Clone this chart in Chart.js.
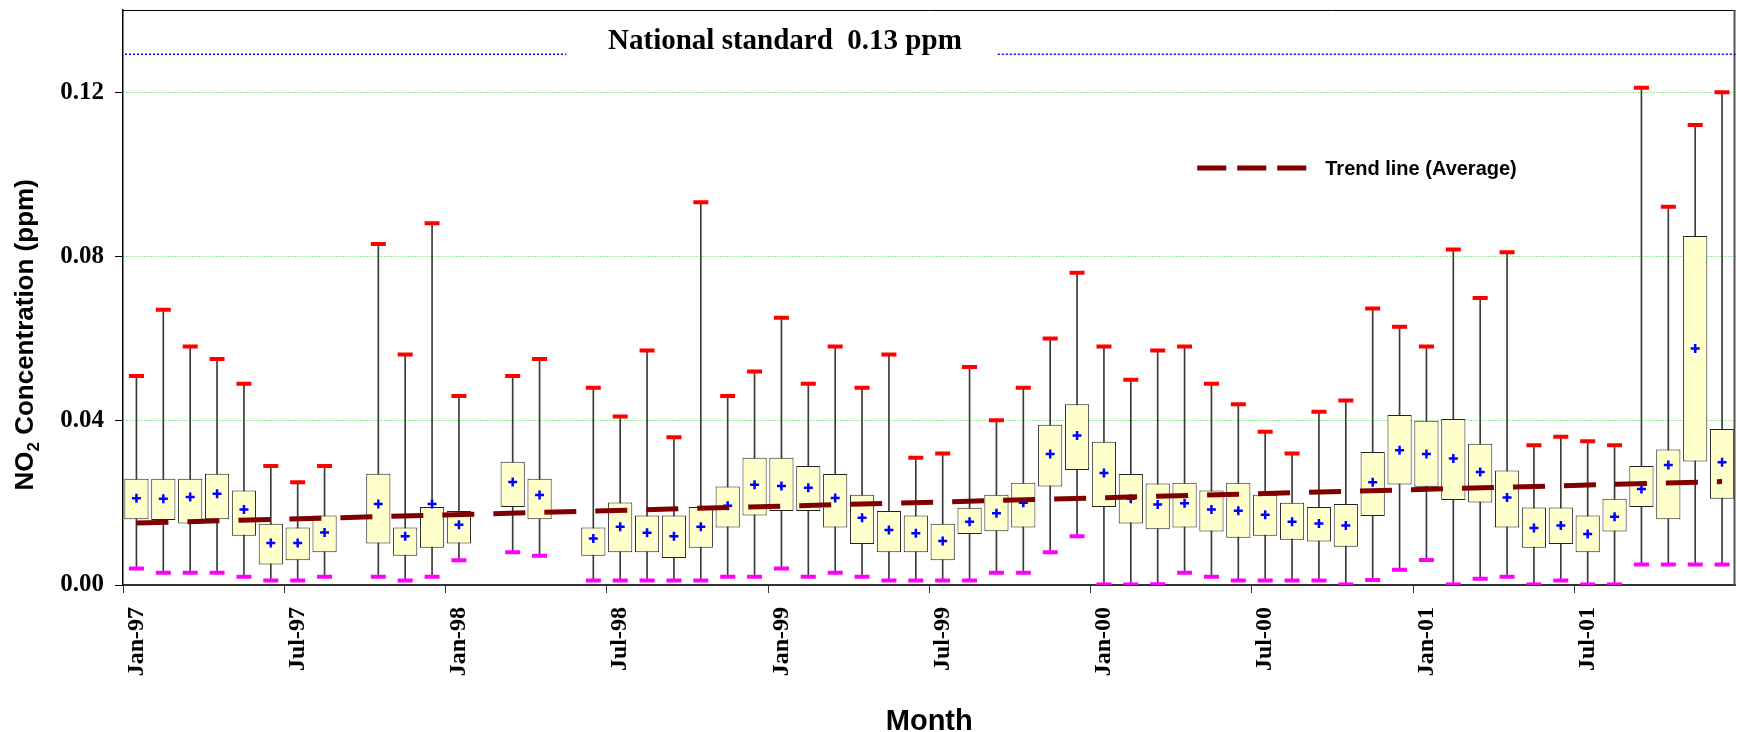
<!DOCTYPE html>
<html>
<head>
<meta charset="utf-8">
<title>NO2 monthly box plot</title>
<script src="https://cdn.jsdelivr.net/npm/chart.js@4.4.1/dist/chart.umd.min.js"></script>
<style>
  html, body { margin: 0; padding: 0; background: #fff; }
  #wrap { width: 1737px; height: 732px; }
</style>
</head>
<body>
<div id="wrap"><canvas id="no2Chart"></canvas></div>
<script>
// =======================
// DATA
// =======================
const monthNames = ['Jan','Feb','Mar','Apr','May','Jun','Jul','Aug','Sep','Oct','Nov','Dec'];
const years = ['97','98','99','00','01'];
const months = years.flatMap(y => monthNames.map(m => `${m}-${y}`));

// null = no data for that month
const maxVals = [0.0509,0.0670,0.0581,0.0550,0.0490,0.0290,0.0250,0.0290,null,0.0830,0.0561,0.0881,
                 0.0460,null,0.0509,0.0550,null,0.0480,0.0410,0.0571,0.0360,0.0932,0.0460,0.0520,
                 0.0651,0.0490,0.0581,0.0480,0.0561,0.0310,0.0320,0.0531,0.0401,0.0480,0.0600,0.0760,
                 0.0581,0.0500,0.0571,0.0581,0.0490,0.0440,0.0373,0.0320,0.0422,0.0449,0.0673,0.0629,
                 0.0581,0.0817,0.0699,0.0810,0.0340,0.0361,0.0350,0.0340,0.1211,0.0921,0.1120,0.1200];
const q3Vals  = [0.0259,0.0259,0.0259,0.0271,0.0230,0.0149,0.0140,0.0169,null,0.0271,0.0140,0.0190,
                 0.0180,null,0.0300,0.0259,null,0.0140,0.0201,0.0169,0.0169,0.0190,0.0240,0.0310,
                 0.0310,0.0290,0.0270,0.0220,0.0180,0.0169,0.0149,0.0188,0.0220,0.0249,0.0390,0.0440,
                 0.0349,0.0270,0.0247,0.0249,0.0230,0.0249,0.0220,0.0200,0.0190,0.0197,0.0324,0.0414,
                 0.0400,0.0404,0.0344,0.0279,0.0189,0.0189,0.0169,0.0210,0.0290,0.0330,0.0850,0.0380];
const meanVals = [0.0211,0.0210,0.0214,0.0222,0.0184,0.0102,0.0102,0.0128,null,0.0197,0.0119,0.0197,
                  0.0147,null,0.0251,0.0219,null,0.0113,0.0142,0.0127,0.0119,0.0142,0.0193,0.0244,
                  0.0241,0.0237,0.0212,0.0164,0.0134,0.0126,0.0107,0.0154,0.0175,0.0200,0.0319,0.0364,
                  0.0273,0.0210,0.0196,0.0199,0.0184,0.0181,0.0171,0.0154,0.0150,0.0145,0.0250,0.0328,
                  0.0319,0.0308,0.0275,0.0213,0.0139,0.0145,0.0124,0.0166,0.0234,0.0292,0.0576,0.0299];
const q1Vals  = [0.0160,0.0158,0.0150,0.0160,0.0120,0.0050,0.0060,0.0080,null,0.0101,0.0071,0.0091,
                 0.0101,null,0.0190,0.0160,null,0.0071,0.0080,0.0080,0.0066,0.0091,0.0140,0.0169,
                 0.0180,0.0180,0.0140,0.0100,0.0080,0.0080,0.0060,0.0124,0.0131,0.0140,0.0240,0.0280,
                 0.0190,0.0150,0.0136,0.0140,0.0130,0.0115,0.0120,0.0110,0.0106,0.0093,0.0168,0.0245,
                 0.0239,0.0207,0.0201,0.0140,0.0091,0.0100,0.0080,0.0130,0.0190,0.0160,0.0301,0.0210];
const minVals = [0.0040,0.0030,0.0030,0.0030,0.0020,0.0011,0.0011,0.0020,null,0.0020,0.0011,0.0020,
                 0.0060,null,0.0080,0.0071,null,0.0011,0.0011,0.0011,0.0011,0.0011,0.0020,0.0020,
                 0.0040,0.0020,0.0030,0.0020,0.0011,0.0011,0.0011,0.0011,0.0030,0.0030,0.0080,0.0119,
                 0.0001,0.0001,0.0002,0.0030,0.0020,0.0011,0.0011,0.0011,0.0011,0.0001,0.0012,0.0037,
                 0.0061,0.0001,0.0015,0.0020,0.0001,0.0011,0.0001,0.0001,0.0050,0.0050,0.0050,0.0050];

// trend line (average) end points
const trendMonths = ['Jan-97', 'Dec-01'];
const trendValues = [0.0151, 0.0252];

// national standard line
const standardLevel = 0.1292;
const standardText = 'National standard  0.13 ppm';

const yTicksMax = 0.12;

const SERIF = '"Liberation Serif", "Times New Roman", serif';
const SANS = '"Liberation Sans", Arial, sans-serif';

// =======================
// EXTRA DRAWING (frame, standard line, legend, y title)
// =======================
const decorPlugin = {
  id: 'decor',
  afterDraw(chart) {
    const { ctx, chartArea: a, scales } = chart;
    const w = a.right - a.left;
    ctx.save();

    // top + right frame
    ctx.strokeStyle = '#000';
    ctx.lineWidth = 1;
    ctx.beginPath();
    ctx.moveTo(a.left, a.top + 0.5);
    ctx.lineTo(a.right, a.top + 0.5);
    ctx.stroke();
    ctx.strokeStyle = '#555';
    ctx.lineWidth = 2;
    ctx.beginPath();
    ctx.moveTo(a.right - 1, a.top);
    ctx.lineTo(a.right - 1, a.bottom);
    ctx.stroke();

    // national standard
    const sy = scales.y.getPixelForValue(standardLevel);
    ctx.font = `bold 29px ${SERIF}`;
    const tw = ctx.measureText(standardText).width;
    const tx = a.left + 0.4105 * w;
    ctx.fillStyle = '#000';
    ctx.textAlign = 'center';
    ctx.textBaseline = 'alphabetic';
    ctx.fillText(standardText, tx, sy - 5);
    ctx.strokeStyle = '#0000ff';
    ctx.lineWidth = 1.5;
    ctx.setLineDash([2, 2]);
    ctx.beginPath();
    ctx.moveTo(a.left + 2, sy);
    ctx.lineTo(tx - tw / 2 - 42, sy);
    ctx.moveTo(tx + tw / 2 + 36, sy);
    ctx.lineTo(a.right, sy);
    ctx.stroke();

    // legend for trend line
    const lx = a.left + 0.6662 * w;
    const ly = a.top + 158;
    ctx.strokeStyle = '#800000';
    ctx.lineWidth = 5;
    ctx.setLineDash([29, 11]);
    ctx.beginPath();
    ctx.moveTo(lx, ly);
    ctx.lineTo(lx + 109, ly);
    ctx.stroke();
    ctx.setLineDash([]);
    ctx.font = `bold 20px ${SANS}`;
    ctx.textAlign = 'left';
    ctx.fillText('Trend line (Average)', lx + 128, ly + 7);

    // y axis title with subscript
    const big = `bold 26px ${SANS}`;
    const small = `bold 17px ${SANS}`;
    const parts = [['NO', big, 0], ['2', small, 6], [' Concentration (ppm)', big, 0]];
    let total = 0;
    parts.forEach(p => { ctx.font = p[1]; total += ctx.measureText(p[0]).width; });
    ctx.translate(33, a.top + 0.565 * (a.bottom - a.top));
    ctx.rotate(-Math.PI / 2);
    let px = -total / 2;
    parts.forEach(p => {
      ctx.font = p[1];
      ctx.fillText(p[0], px, p[2]);
      px += ctx.measureText(p[0]).width;
    });

    ctx.restore();
  }
};

// =======================
// RENDER CHART
// =======================
const ctxNo2 = document.getElementById('no2Chart').getContext('2d');
new Chart(ctxNo2, {
  type: 'bar',
  data: {
    labels: months,
    datasets: [
      {
        type: 'line', label: 'Trend line (Average)',
        data: trendMonths.map((m, k) => ({ x: m, y: trendValues[k] })),
        borderColor: '#800000', borderWidth: 5, borderDash: [32, 19],
        pointRadius: 0, fill: false, order: 0
      },
      {
        type: 'line', label: 'Average', data: meanVals, showLine: false,
        pointStyle: 'cross', pointRadius: 4.5, pointBorderWidth: 2.5,
        pointBorderColor: '#0000ff', pointBackgroundColor: '#0000ff', order: 1
      },
      {
        type: 'line', label: 'Maximum', data: maxVals, showLine: false,
        pointStyle: 'line', pointRadius: 7.5, pointBorderWidth: 4,
        pointBorderColor: '#ff0000', order: 2
      },
      {
        type: 'line', label: 'Minimum', data: minVals, showLine: false,
        pointStyle: 'line', pointRadius: 7.5, pointBorderWidth: 4,
        pointBorderColor: '#ff00ff', order: 3
      },
      {
        type: 'bar', label: '25th-75th percentile',
        data: months.map((_, i) => q1Vals[i] == null ? null : [q1Vals[i], q3Vals[i]]),
        backgroundColor: '#ffffcc', borderColor: '#222', borderWidth: 1,
        borderSkipped: false, grouped: false,
        categoryPercentage: 1, barPercentage: 0.9, order: 4
      },
      {
        type: 'bar', label: 'Range',
        data: months.map((_, i) => minVals[i] == null ? null : [minVals[i], maxVals[i]]),
        backgroundColor: '#3a3a3a', barThickness: 1, grouped: false, order: 5
      }
    ]
  },
  options: {
    responsive: true,
    maintainAspectRatio: false,
    animation: false,
    events: [],
    layout: { autoPadding: false, padding: { top: 10, right: 1.5, left: 0, bottom: 0 } },
    plugins: { legend: { display: false }, tooltip: { enabled: false } },
    scales: {
      x: {
        type: 'category',
        offset: true,
        grid: {
          offset: true, drawOnChartArea: false, drawTicks: true,
          tickLength: 8, tickWidth: 1,
          tickColor: c => (c.index % 6 === 0 ? '#333' : 'rgba(0,0,0,0)')
        },
        border: { display: true, color: '#333', width: 2 },
        ticks: {
          autoSkip: false, minRotation: 90, maxRotation: 90, padding: 14, color: '#000',
          font: { family: SERIF, size: 24, weight: 'bold' },
          callback: (v, i) => (i % 6 === 0 ? months[i] : '')
        },
        title: {
          display: true, text: 'Month', color: '#000',
          font: { family: SANS, size: 29, weight: 'bold' },
          padding: { top: 0, bottom: -7 }
        },
        afterFit: s => { s.height = 147; s.paddingLeft = 0; s.paddingRight = 0; }
      },
      y: {
        min: 0, max: 0.14,
        ticks: {
          stepSize: 0.04, padding: 11, color: '#000',
          font: { family: SERIF, size: 25, weight: 'bold' },
          callback: v => v.toFixed(2)
        },
        afterBuildTicks: s => { s.ticks = s.ticks.filter(t => t.value <= yTicksMax + 1e-9); },
        grid: {
          color: c => (c.tick && c.tick.value > 0 ? '#2fe02f' : 'rgba(0,0,0,0)'),
          lineWidth: 1, drawTicks: true, tickLength: 8, tickColor: '#000'
        },
        border: { display: true, color: '#000', width: 1.5, dash: [1, 2] },
        afterFit: s => { s.width = 123; s.paddingTop = 0; s.paddingBottom = 0; }
      }
    }
  },
  plugins: [decorPlugin]
});
</script>
</body>
</html>
